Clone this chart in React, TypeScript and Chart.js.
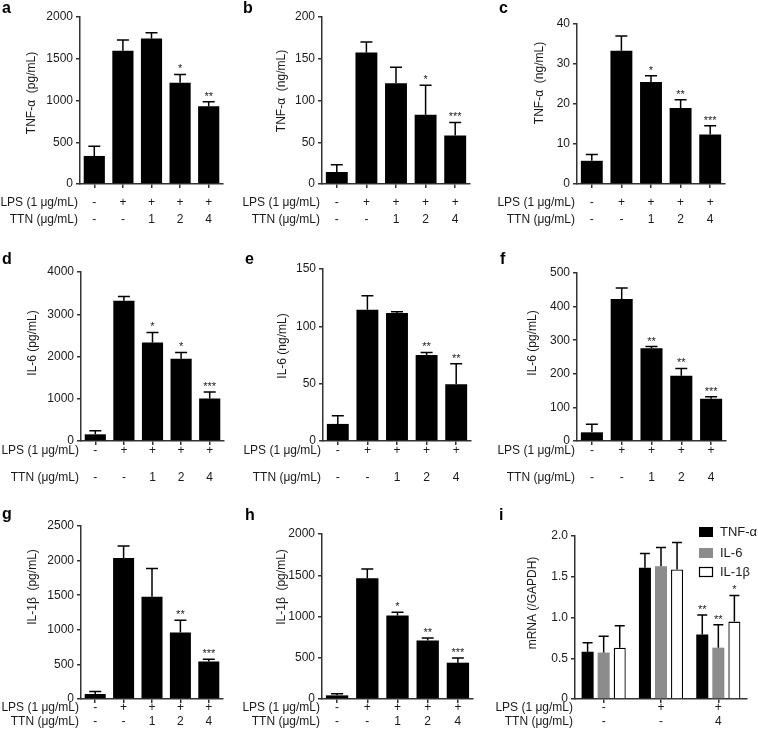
import React, { useEffect, useRef } from 'react';
import { Chart, registerables } from 'chart.js';

Chart.register(...registerables);

const FONT = "Arial, 'Liberation Sans', Helvetica, sans-serif";
const AXIS = '#333';
const TEXT = '#1a1a1a';

// ---------- data ----------
const treatments = ['Control', 'LPS', 'LPS+TTN 1', 'LPS+TTN 2', 'LPS+TTN 4'];
const lpsSigns = ['-', '+', '+', '+', '+'];
const ttnDoses = ['-', '-', '1', '2', '4'];

// a: TNF-α (pg/mL)
const tnfPgMean = [336, 1596, 1744, 1212, 932];
const tnfPgErr = [116, 128, 68, 100, 52];
const tnfPgStars = ['', '', '', '*', '**'];

// b: TNF-α (ng/mL)
const tnfNgMeanB = [14.4, 157.5, 120.6, 83, 58.1];
const tnfNgErrB = [8.8, 12.5, 19.3, 35.2, 15.6];
const tnfNgStarsB = ['', '', '', '*', '***'];

// c: TNF-α (ng/mL)
const tnfNgMeanC = [5.8, 33.3, 25.5, 19.0, 12.4];
const tnfNgErrC = [1.6, 3.7, 1.55, 2.06, 2.14];
const tnfNgStarsC = ['', '', '*', '**', '***'];

// d: IL-6 (pg/mL)
const il6PgMeanD = [158, 3320, 2330, 1945, 1005];
const il6PgErrD = [87, 103, 239, 150, 157];
const il6PgStarsD = ['', '', '*', '*', '***'];

// e: IL-6 (ng/mL)
const il6NgMeanE = [14.9, 114.5, 111.6, 74.9, 49.5];
const il6NgErrE = [7.2, 12.2, 1.1, 2.3, 17.8];
const il6NgStarsE = ['', '', '', '**', '**'];

// f: IL-6 (pg/mL)
const il6PgMeanF = [25.8, 422.5, 276, 194, 126];
const il6PgErrF = [23.9, 32.5, 5, 22, 6];
const il6PgStarsF = ['', '', '**', '**', '***'];

// g: IL-1β (pg/mL)
const il1bPgMeanG = [72, 2039, 1478, 960, 542];
const il1bPgErrG = [38, 173, 408, 177, 34];
const il1bPgStarsG = ['', '', '', '**', '***'];

// h: IL-1β (pg/mL)
const il1bPgMeanH = [44, 1464, 1012, 710, 440];
const il1bPgErrH = [21, 113, 40, 28, 56];
const il1bPgStarsH = ['', '', '*', '**', '***'];

// i: mRNA (/GAPDH)
const mrnaGroups = ['Control', 'LPS', 'LPS+TTN 4'];
const mrnaLps = ['-', '+', '+'];
const mrnaTtn = ['-', '-', '4'];
const mrnaTnfMean = [0.58, 1.61, 0.79];
const mrnaTnfErr = [0.11, 0.175, 0.24];
const mrnaTnfStars = ['', '', '**'];
const mrnaIl6Mean = [0.57, 1.63, 0.63];
const mrnaIl6Err = [0.2, 0.23, 0.28];
const mrnaIl6Stars = ['', '', '**'];
const mrnaIl1bMean = [0.63, 1.59, 0.95];
const mrnaIl1bErr = [0.27, 0.33, 0.32];
const mrnaIl1bStars = ['', '', '*'];

// ---------- panel setup ----------
type Series = { label: string; means: number[]; errs: number[]; stars: string[]; fill: string; border: string; bw: number };
type Panel = {
  letter: string; letterX: number; letterBase: number;
  cx: number; cy: number; cw: number; ch: number;
  L: number; T: number; R: number; B: number;
  titleX: number; titleY: number; title: string;
  max: number; step: number; decimals: number;
  categories: string[]; lps: string[]; ttn: string[]; lpsY: number; ttnY: number;
  series: Series[]; barPct: number; catPct: number; cap: number; legend: boolean;
};

const black = (means: number[], errs: number[], stars: string[]): Series[] => [
  { label: 'mean', means, errs, stars, fill: '#000', border: '#000', bw: 0 },
];

const base = { categories: treatments, lps: lpsSigns, ttn: ttnDoses, barPct: 0.74, catPct: 1, cap: 6, legend: false, decimals: 0 };

const panels: Panel[] = [
  { ...base, letter: 'a', letterX: 2, letterBase: 13, cx: 0, cy: 0, cw: 250, ch: 240, L: 80, T: 17, R: 223, B: 184,
    titleX: 32, titleY: 93, title: 'TNF-α  (pg/mL)', max: 2000, step: 500, lpsY: 203, ttnY: 220,
    series: black(tnfPgMean, tnfPgErr, tnfPgStars) },
  { ...base, letter: 'b', letterX: 243, letterBase: 13, cx: 236, cy: 0, cw: 264, ch: 240, L: 322, T: 17, R: 470, B: 184,
    titleX: 282, titleY: 91, title: 'TNF-α  (ng/mL)', max: 200, step: 50, lpsY: 203, ttnY: 220,
    series: black(tnfNgMeanB, tnfNgErrB, tnfNgStarsB) },
  { ...base, letter: 'c', letterX: 499, letterBase: 13, cx: 488, cy: 0, cw: 270, ch: 240, L: 577, T: 24, R: 725, B: 184,
    titleX: 540, titleY: 83, title: 'TNF-α  (ng/mL)', max: 40, step: 10, lpsY: 203, ttnY: 220,
    series: black(tnfNgMeanC, tnfNgErrC, tnfNgStarsC) },
  { ...base, letter: 'd', letterX: 2, letterBase: 264, cx: 0, cy: 240, cw: 250, ch: 250, L: 81, T: 272, R: 224, B: 441,
    titleX: 33, titleY: 343, title: 'IL-6 (pg/mL)', max: 4000, step: 1000, lpsY: 451, ttnY: 478,
    series: black(il6PgMeanD, il6PgErrD, il6PgStarsD) },
  { ...base, letter: 'e', letterX: 245, letterBase: 264, cx: 236, cy: 240, cw: 264, ch: 250, L: 323, T: 269, R: 471, B: 441,
    titleX: 283, titleY: 346, title: 'IL-6 (ng/mL)', max: 150, step: 50, lpsY: 451, ttnY: 478,
    series: black(il6NgMeanE, il6NgErrE, il6NgStarsE) },
  { ...base, letter: 'f', letterX: 500, letterBase: 264, cx: 488, cy: 240, cw: 270, ch: 250, L: 577, T: 273, R: 726, B: 441,
    titleX: 533, titleY: 343, title: 'IL-6 (pg/mL)', max: 500, step: 100, lpsY: 451, ttnY: 478,
    series: black(il6PgMeanF, il6PgErrF, il6PgStarsF) },
  { ...base, letter: 'g', letterX: 2, letterBase: 519, cx: 0, cy: 490, cw: 250, ch: 251, L: 81, T: 526, R: 223, B: 699,
    titleX: 33, titleY: 587, title: 'IL-1β  (pg/mL)', max: 2500, step: 500, lpsY: 708, ttnY: 722,
    series: black(il1bPgMeanG, il1bPgErrG, il1bPgStarsG) },
  { ...base, letter: 'h', letterX: 245, letterBase: 520, cx: 236, cy: 490, cw: 264, ch: 251, L: 322, T: 534, R: 473, B: 699,
    titleX: 282, titleY: 587, title: 'IL-1β  (pg/mL)', max: 2000, step: 500, lpsY: 708, ttnY: 722,
    series: black(il1bPgMeanH, il1bPgErrH, il1bPgStarsH) },
  { letter: 'i', letterX: 499, letterBase: 520, cx: 488, cy: 490, cw: 270, ch: 251, L: 575, T: 536, R: 747, B: 699,
    titleX: 533, titleY: 603, title: 'mRNA (/GAPDH)', max: 2, step: 0.5, decimals: 1,
    categories: mrnaGroups, lps: mrnaLps, ttn: mrnaTtn, lpsY: 708, ttnY: 722,
    barPct: 0.75, catPct: 0.84, cap: 5, legend: true,
    series: [
      { label: 'TNF-α', means: mrnaTnfMean, errs: mrnaTnfErr, stars: mrnaTnfStars, fill: '#000', border: '#000', bw: 0 },
      { label: 'IL-6', means: mrnaIl6Mean, errs: mrnaIl6Err, stars: mrnaIl6Stars, fill: '#8c8c8c', border: '#8c8c8c', bw: 0 },
      { label: 'IL-1β', means: mrnaIl1bMean, errs: mrnaIl1bErr, stars: mrnaIl1bStars, fill: '#ffffff', border: '#000', bw: 1.3 },
    ] },
];

function PanelChart({ p }: { p: Panel }) {
  const ref = useRef<HTMLCanvasElement>(null);
  useEffect(() => {
    const canvas = ref.current;
    if (!canvas) return;
    const xHeight = 8;
    const padTop = p.T - p.cy;
    const padBottom = p.cy + p.ch - p.B - xHeight;
    const padRight = p.cx + p.cw - p.R;
    const yWidth = p.L - p.cx;

    const extras = {
      id: 'extras',
      afterDatasetsDraw(chart: any) {
        const ctx = chart.ctx as CanvasRenderingContext2D;
        const ys = chart.scales.y;
        const xs = chart.scales.x;
        ctx.save();
        // error bars + significance stars
        p.series.forEach((s, di) => {
          const meta = chart.getDatasetMeta(di);
          meta.data.forEach((bar: any, i: number) => {
            const top = ys.getPixelForValue(s.means[i] + s.errs[i]);
            const bx = bar.x;
            ctx.strokeStyle = '#000';
            ctx.lineWidth = 1.5;
            ctx.beginPath();
            ctx.moveTo(bx, bar.y);
            ctx.lineTo(bx, top);
            ctx.moveTo(bx - p.cap, top);
            ctx.lineTo(bx + p.cap, top);
            ctx.stroke();
            if (s.stars[i]) {
              ctx.fillStyle = TEXT;
              ctx.font = `11px ${FONT}`;
              ctx.textAlign = 'center';
              ctx.textBaseline = 'alphabetic';
              ctx.fillText(s.stars[i], bx, top - 2);
            }
          });
        });
        // y-axis title
        ctx.fillStyle = TEXT;
        ctx.font = `12px ${FONT}`;
        ctx.save();
        ctx.translate(p.titleX - p.cx, p.titleY - p.cy);
        ctx.rotate(-Math.PI / 2);
        ctx.textAlign = 'center';
        ctx.textBaseline = 'middle';
        ctx.fillText(p.title, 0, 0);
        ctx.restore();
        // treatment rows
        ctx.font = `12px ${FONT}`;
        ctx.textBaseline = 'middle';
        ctx.textAlign = 'right';
        const left = chart.chartArea.left;
        ctx.fillText('LPS (1 μg/mL)', left - 2, p.lpsY - p.cy);
        ctx.fillText('TTN (μg/mL)', left - 2, p.ttnY - p.cy);
        ctx.textAlign = 'center';
        p.lps.forEach((t, i) => ctx.fillText(t, xs.getPixelForValue(i), p.lpsY - p.cy));
        p.ttn.forEach((t, i) => ctx.fillText(t, xs.getPixelForValue(i), p.ttnY - p.cy));
        // legend
        if (p.legend) {
          const lx = 699 - p.cx;
          const rows = [532, 553, 572];
          ctx.font = `13px ${FONT}`;
          ctx.textAlign = 'left';
          p.series.forEach((s, k) => {
            const cyy = rows[k] - p.cy;
            ctx.fillStyle = s.fill;
            ctx.fillRect(lx, cyy - 5, 14, 10);
            if (s.bw > 0) {
              ctx.strokeStyle = s.border;
              ctx.lineWidth = 1.2;
              ctx.strokeRect(lx + 0.5, cyy - 4.5, 13, 9);
            }
            ctx.fillStyle = TEXT;
            ctx.fillText(s.label, lx + 21, cyy);
          });
        }
        ctx.restore();
      },
    };

    const chart = new Chart(canvas, {
      type: 'bar',
      data: {
        labels: p.categories,
        datasets: p.series.map((s) => ({
          label: s.label,
          data: s.means,
          backgroundColor: s.fill,
          borderColor: s.border,
          borderWidth: s.bw,
          barPercentage: p.barPct,
          categoryPercentage: p.catPct,
        })),
      },
      options: {
        responsive: false,
        maintainAspectRatio: false,
        animation: false,
        layout: { padding: { left: 0, top: padTop, right: padRight, bottom: padBottom } },
        plugins: { legend: { display: false }, tooltip: { enabled: false } },
        scales: {
          x: {
            type: 'category',
            offset: true,
            grid: { display: true, offset: false, drawOnChartArea: false, drawTicks: true, tickLength: 4, color: AXIS, lineWidth: 1.5 },
            border: { display: true, color: AXIS, width: 1.5 },
            ticks: { display: false },
            afterFit: (s: any) => { s.height = xHeight; },
          },
          y: {
            type: 'linear',
            min: 0,
            max: p.max,
            grid: { display: true, drawOnChartArea: false, drawTicks: true, tickLength: 4, color: AXIS, lineWidth: 1.5 },
            border: { display: true, color: AXIS, width: 1.5 },
            ticks: {
              stepSize: p.step,
              padding: 3,
              color: TEXT,
              font: { family: FONT, size: 12 },
              callback: (v: any) => (Number(v) === 0 ? '0' : Number(v).toFixed(p.decimals)),
            },
            afterFit: (s: any) => { s.width = yWidth; },
          },
        },
      } as any,
      plugins: [extras],
    });
    return () => chart.destroy();
  }, [p]);
  return (
    <canvas
      ref={ref}
      width={p.cw}
      height={p.ch}
      style={{ position: 'absolute', left: p.cx, top: p.cy, width: p.cw, height: p.ch }}
    />
  );
}

export default function App() {
  return (
    <div style={{ position: 'absolute', left: 0, top: 0, width: 758, height: 741, background: '#fff', overflow: 'hidden' }}>
      {panels.map((p) => (
        <PanelChart key={p.letter} p={p} />
      ))}
      {panels.map((p) => (
        <div
          key={'l' + p.letter}
          style={{
            position: 'absolute',
            left: p.letterX,
            top: p.letterBase - 13.5,
            font: `bold 16px ${FONT}`,
            lineHeight: '16px',
            color: '#000',
          }}
        >
          {p.letter}
        </div>
      ))}
    </div>
  );
}
